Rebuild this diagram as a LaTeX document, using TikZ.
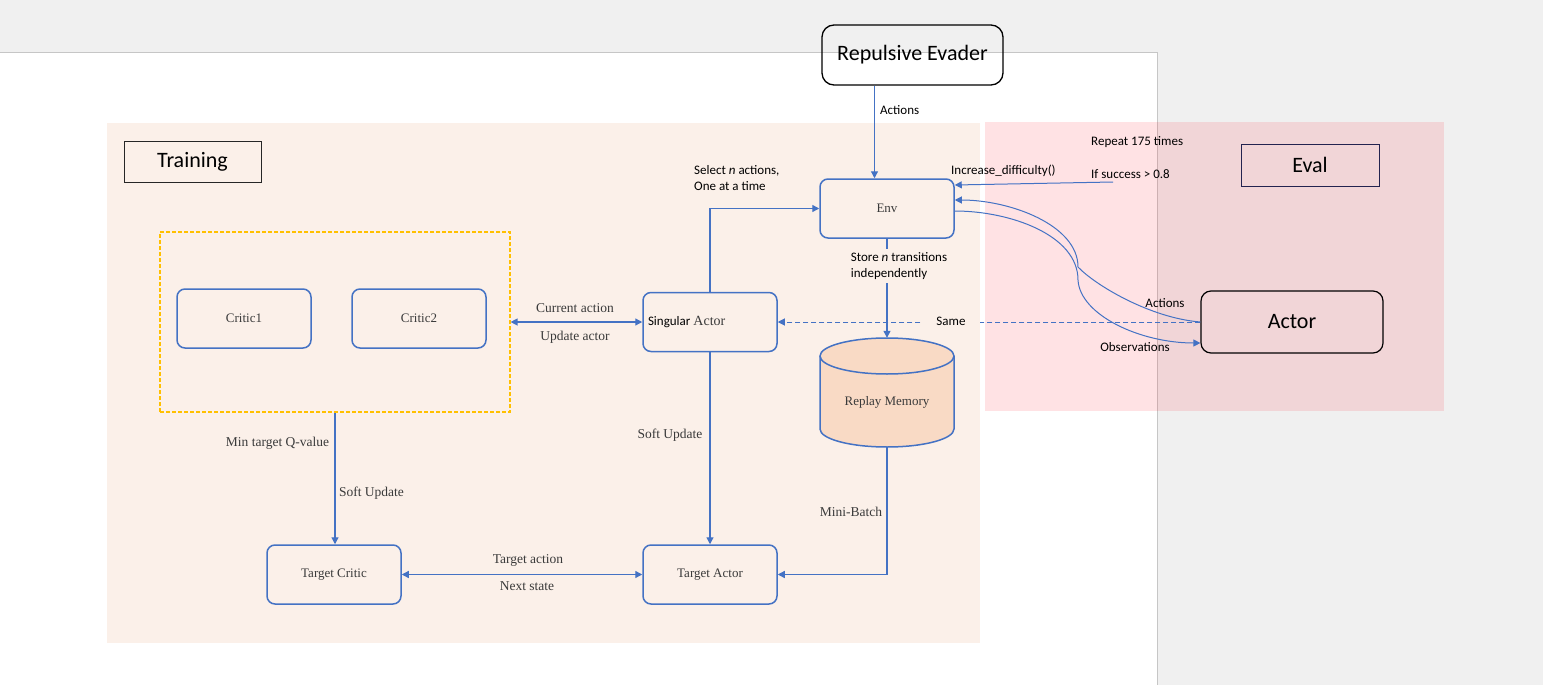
\documentclass[tikz,border=0pt]{standalone}
\usepackage{fontspec}
\setmainfont{Liberation Serif}
\newfontfamily\carl{Carlito}
\usetikzlibrary{arrows.meta}
\definecolor{bggray}{HTML}{F0F0F0}
\definecolor{pageline}{HTML}{C6C6C6}
\definecolor{trainfill}{HTML}{FBF0E9}
\definecolor{evalred}{RGB}{255,32,50}
\definecolor{blueline}{HTML}{4472C4}
\definecolor{orangedash}{HTML}{FFC000}
\definecolor{memfill}{HTML}{F9DAC5}
\definecolor{txtgray}{HTML}{3A3A3A}
\definecolor{navy}{HTML}{23234F}
\begin{document}
\begin{tikzpicture}[x=1pt,y=-1pt,
 box/.style={draw=blueline, line width=1.5pt, rounded corners=8pt, minimum width=134pt, minimum height=59pt, inner sep=0pt, font=\fontsize{13}{15}\selectfont, text=txtgray},
 conn/.style={draw=blueline, line width=1.3pt},
 arr/.style={conn, -{Triangle[length=7pt,width=7pt]}},
 darr/.style={conn, {Triangle[length=7pt,width=7pt]}-{Triangle[length=7pt,width=7pt]}},
 slabel/.style={font=\fontsize{13.5}{16}\selectfont, text=txtgray, inner sep=1pt},
 clabel/.style={font=\carl\fontsize{13}{16}\selectfont, text=black, inner sep=1pt},
 bigsans/.style={font=\carl\fontsize{22}{26}\selectfont, text=black},
]
\useasboundingbox (0,0) rectangle (1543,685);
% page background
\fill[bggray] (0,0) rectangle (1543,685);
\fill[white] (0,53) rectangle (1157,685);
\draw[pageline, line width=1pt] (0,53) -- (1157,53) -- (1157,685);
% regions
\fill[trainfill] (107,123) rectangle (980,643);
\fill[evalred, opacity=0.13] (985,122) rectangle (1444,411);

% replay memory cylinder
\filldraw[fill=memfill, draw=blueline, line width=1.5pt] (820,356) -- (820,429)
  arc[start angle=180,end angle=360,x radius=67pt,y radius=18pt] -- (954,356)
  arc[start angle=0,end angle=180,x radius=67pt,y radius=18pt] -- cycle;
\draw[blueline, line width=1.5pt] (820,356) arc[start angle=180,end angle=360,x radius=67pt,y radius=18pt];

% nodes
\node[draw=black, line width=1.3pt, rounded corners=12pt, minimum width=181pt, minimum height=60pt, bigsans] (evader) at (912.5,55) {Repulsive Evader};
\node[draw=black!85, line width=1pt, minimum width=137pt, minimum height=41pt, bigsans] (trainlbl) at (192.5,161.5) {Training};
\node[draw=navy, line width=1pt, minimum width=138pt, minimum height=42pt, bigsans] (evallbl) at (1310,165) {Eval};
\node[draw=black, line width=1.2pt, rounded corners=10pt, minimum width=182pt, minimum height=62pt, bigsans] (actor) at (1292,322) {Actor};
\node[box] (env) at (887,208.5) {Env};
\node[draw=orangedash, line width=1.2pt, dash pattern=on 4pt off 2pt, minimum width=350pt, minimum height=180pt] (critbox) at (335,322) {};
\node[box] (critic1) at (244,318.5) {Critic1};
\node[box] (critic2) at (419,318.5) {Critic2};
\node[box, text width=124pt, inner xsep=5pt, align=left, text=txtgray] (sactor) at (710,322) {{\carl\color{black}Singular}\hspace{3pt}{\fontsize{14}{16}\selectfont Actor}};
\node[inner sep=0pt, minimum width=134pt, minimum height=109pt] (replay) at (887,392.5) {};
\node[slabel, font=\fontsize{13}{15}\selectfont] (replaytxt) at (887,402) {Replay Memory};
\node[box] (tcritic) at (334,574.5) {Target Critic};
\node[box] (tactor) at (710,574.5) {Target Actor};

% connectors
\draw[arr] ([xshift=-38pt]evader.south) -- ([xshift=-38pt]evader.south |- env.north);
\node[clabel, anchor=west] (actlbl) at (879,110) {Actions};

\draw[arr] (sactor.north) |- (env.west);
\node[clabel, anchor=west, align=left] (selectlbl) at (693,178) {Select \textit{n} actions,\\One at a time};

\draw[arr, line width=1pt, dash pattern=on 5pt off 3pt] (actor.west) -- (sactor.east);
\node[clabel, fill=trainfill, minimum width=57pt, minimum height=16pt] (samelbl) at (951,321) {Same};

\draw[arr] (env.south) -- (replay.north);
\node[clabel, align=left, fill=trainfill, inner sep=3pt] (storelbl) at (899,266) {Store \textit{n} transitions\\independently};

\draw[darr] (critbox.east) -- (sactor.west);
\node[slabel] (curlbl) at (575,308) {Current action};
\node[slabel] (updlbl) at (575,337) {Update actor};

\draw[arr] (critbox.south) -- (critbox.south |- tcritic.north);
\node[slabel] (minq) at (277.5,443) {Min target Q-value};
\node[slabel] (soft1) at (371.5,493) {Soft Update};

\draw[arr] (sactor.south) -- (tactor.north);
\node[slabel] (soft2) at (670,435) {Soft Update};

\draw[arr] (replay.south) |- (tactor.east);
\node[slabel] (mini) at (851,512) {Mini-Batch};

\draw[darr] (tcritic.east) -- (tactor.west);
\node[slabel] (tact) at (528,560) {Target action};
\node[slabel] (nstate) at (527,586) {Next state};

% eval connectors
\coordinate (incstart) at (1113,182);
\draw[arr, line width=1pt] (incstart) -- ([yshift=23.5pt]env.east);
\node[clabel, anchor=west] (inclbl) at (950,171) {Increase\_difficulty()};
\node[clabel, anchor=west] (replbl) at (1090,142) {Repeat 175 times};
\node[clabel, anchor=west] (ifsucc) at (1090,174) {If success > 0.8};

\draw[arr, line width=1pt] (actor.west) .. controls (1150,318) and (1095,285) .. (1078,267)
  .. controls (1078,225) and (1010,200) .. ([yshift=8.5pt]env.east);
\draw[arr, line width=1pt] ([yshift=-2.5pt]env.east) .. controls (1010,211) and (1078,235) .. (1078,280)
  .. controls (1080,315) and (1140,343) .. ([yshift=-21pt]actor.west);
\node[clabel] (actlbl2) at (1165,303) {Actions};
\node[clabel] (obslbl) at (1135,347) {Observations};
\end{tikzpicture}
\end{document}
